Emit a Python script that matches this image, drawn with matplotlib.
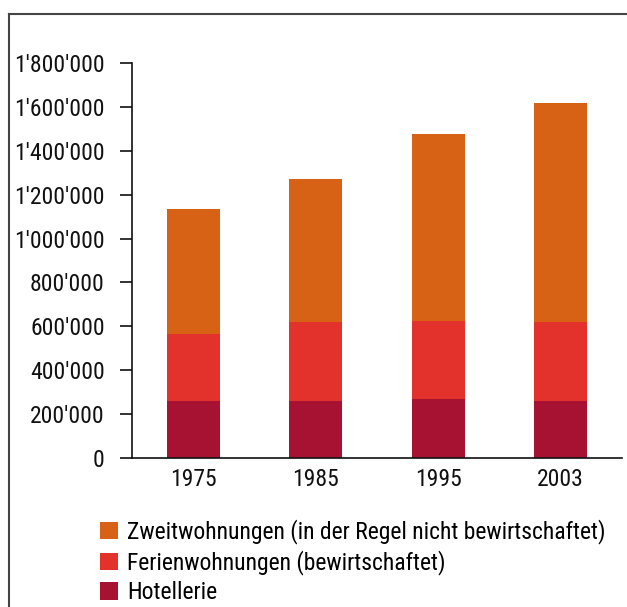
import matplotlib
matplotlib.use("Agg")
import matplotlib.pyplot as plt
from matplotlib.lines import Line2D
from matplotlib.patches import Patch
from matplotlib.ticker import FuncFormatter

years = ["1975", "1985", "1995", "2003"]
hotellerie = [260000, 260000, 270000, 260000]
ferienwohnungen = [305000, 360000, 355000, 360000]
zweitwohnungen = [570000, 652000, 853000, 998000]
series_labels = ["Zweitwohnungen (in der Regel nicht bewirtschaftet)",
                 "Ferienwohnungen (bewirtschaftet)",
                 "Hotellerie"]
colors = {"zw": "#D76115", "fe": "#E3312B", "ho": "#A71232"}

plt.rcParams["font.family"] = ["Roboto Condensed", "DejaVu Sans"]
FS = 17

W, H = 627, 607
fig = plt.figure(figsize=(W / 100, H / 100), dpi=100)
ax = fig.add_axes([132 / W, 1 - 458 / H, (622 - 132) / W, (458 - 63) / H])

x = list(range(len(years)))
bw = 0.43
ax.bar(x, hotellerie, width=bw, color=colors["ho"], linewidth=0)
bottom2 = [h for h in hotellerie]
ax.bar(x, ferienwohnungen, width=bw, bottom=bottom2, color=colors["fe"], linewidth=0)
bottom3 = [h + f for h, f in zip(hotellerie, ferienwohnungen)]
ax.bar(x, zweitwohnungen, width=bw, bottom=bottom3, color=colors["zw"], linewidth=0)

ax.set_xlim(-0.5, 3.5)
ax.set_ylim(0, 1800000)
ax.set_yticks(range(0, 1800001, 200000))
ax.yaxis.set_major_formatter(FuncFormatter(lambda v, p: f"{int(v):,}".replace(",", "'")))
ax.set_xticks(x)
ax.set_xticklabels(years)
for s in ["top", "right"]:
    ax.spines[s].set_visible(False)
for s in ["left", "bottom"]:
    ax.spines[s].set_linewidth(1.2)
    ax.spines[s].set_color("#111111")
ax.tick_params(axis="y", direction="out", length=8.6, width=1.2, pad=11, labelsize=FS, colors="#111111")
ax.tick_params(axis="x", length=0, pad=7, labelsize=FS, colors="#111111")

handles = [Patch(facecolor=colors["zw"]), Patch(facecolor=colors["fe"]), Patch(facecolor=colors["ho"])]
fig.legend(handles, series_labels, loc="upper left", bbox_to_anchor=(93 / W, 1 - 512 / H),
           frameon=False, fontsize=FS, handlelength=0.76, handleheight=0.76,
           handletextpad=0.4, labelspacing=0.26, borderaxespad=0, borderpad=0.3)

fig.add_artist(Line2D([8.5 / W, 8.5 / W], [0, 1 - 14 / H], color="#444444", lw=1.5, transform=fig.transFigure))
fig.add_artist(Line2D([8.5 / W, 1], [1 - 14 / H, 1 - 14 / H], color="#444444", lw=1.5, transform=fig.transFigure))

fig.savefig("out.png", dpi=100)
